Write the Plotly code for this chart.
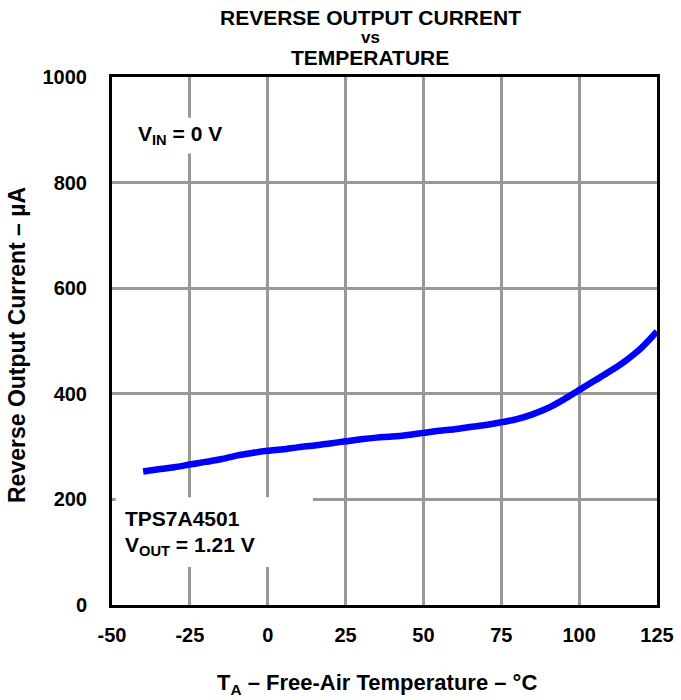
import plotly.graph_objects as go

temperature_c = [-40, -35, -30, -25, -20, -15, -10, -5, 0, 5, 10, 15, 20, 25, 30, 35, 40, 45,
                 50, 55, 60, 65, 70, 75, 80, 85, 90, 95, 100, 105, 110, 115, 120, 125]
reverse_current_ua = [253, 257, 261, 266, 271, 276, 283, 288, 292, 295, 299, 302, 306, 310, 314, 317,
                      319, 322, 326, 330, 333, 337, 341, 346, 352, 361, 373, 389, 407, 425, 443, 463, 487, 518]

x_ticks = [-50, -25, 0, 25, 50, 75, 100, 125]
y_ticks = [0, 200, 400, 600, 800, 1000]

FONT = "Liberation Sans, Arial, sans-serif"

fig = go.Figure()
fig.add_trace(go.Scatter(
    x=temperature_c, y=reverse_current_ua, mode="lines",
    line=dict(color="#0000FF", width=6.5, shape="spline", smoothing=0.8),
    showlegend=False, hoverinfo="skip",
))

axis_common = dict(
    showgrid=True, gridcolor="#999999", gridwidth=3,
    showline=True, linecolor="black", linewidth=3, mirror=True,
    zeroline=False, ticks="", automargin=False,
    tickfont=dict(family=FONT, size=20, color="black", weight="bold"),
)

fig.update_xaxes(range=[-50, 125], tickvals=x_ticks, ticktext=[str(v) for v in x_ticks],
                 ticklabelstandoff=10, **axis_common)
fig.update_yaxes(range=[0, 1000], tickvals=y_ticks, ticktext=[str(v) for v in y_ticks],
                 ticklabelstandoff=18, **axis_common)

# white boxes that interrupt the grid behind the text blocks
fig.add_shape(type="rect", xref="x", yref="y", x0=-48.8, x1=14.5, y0=72, y1=204,
              fillcolor="white", line=dict(width=0), layer="between")
fig.add_shape(type="rect", xref="x", yref="y", x0=-46, x1=-9, y0=855, y1=923,
              fillcolor="white", line=dict(width=0), layer="between")

annotations = [
    dict(text="<b>REVERSE OUTPUT CURRENT</b>", x=0.4734, y=1.1127, size=21),
    dict(text="<b>vs</b>", x=0.4734, y=1.0739, size=17),
    dict(text="<b>TEMPERATURE</b>", x=0.4734, y=1.036, size=21),
    dict(text="<b>T<sub>A</sub> – Free-Air Temperature – °C</b>", x=0.4867, y=-0.1496, size=22),
]
for a in annotations:
    fig.add_annotation(text=a["text"], xref="paper", yref="paper", x=a["x"], y=a["y"],
                       xanchor="center", yanchor="middle", showarrow=False,
                       font=dict(family=FONT, size=a["size"], color="black"))

fig.add_annotation(text="<b>Reverse Output Current – µA</b>", xref="paper", yref="paper",
                   x=-0.1743, y=0.4924, xanchor="center", yanchor="middle", textangle=-90,
                   showarrow=False, font=dict(family=FONT, size=23, color="black"))

fig.add_annotation(text="<b>V<sub>IN</sub> = 0 V</b>", xref="paper", yref="paper",
                   x=(136 - 112) / 545, y=(605 - 135) / 528, xanchor="left", yanchor="middle",
                   showarrow=False, font=dict(family=FONT, size=21, color="black"))
fig.add_annotation(text="<b>TPS7A4501</b>", xref="paper", yref="paper",
                   x=(123 - 112) / 545, y=(605 - 518) / 528, xanchor="left", yanchor="middle",
                   showarrow=False, font=dict(family=FONT, size=21, color="black"))
fig.add_annotation(text="<b>V<sub>OUT</sub> = 1.21 V</b>", xref="paper", yref="paper",
                   x=(123 - 112) / 545, y=(605 - 546) / 528, xanchor="left", yanchor="middle",
                   showarrow=False, font=dict(family=FONT, size=21, color="black"))

fig.update_layout(
    width=681, height=700,
    margin=dict(l=112, r=24, t=77, b=95, autoexpand=False),
    plot_bgcolor="white", paper_bgcolor="white",
    font=dict(family=FONT, color="black"),
)

fig.write_html("out.html", config={"displayModeBar": False},
               post_script="document.body.style.margin='0px';")
